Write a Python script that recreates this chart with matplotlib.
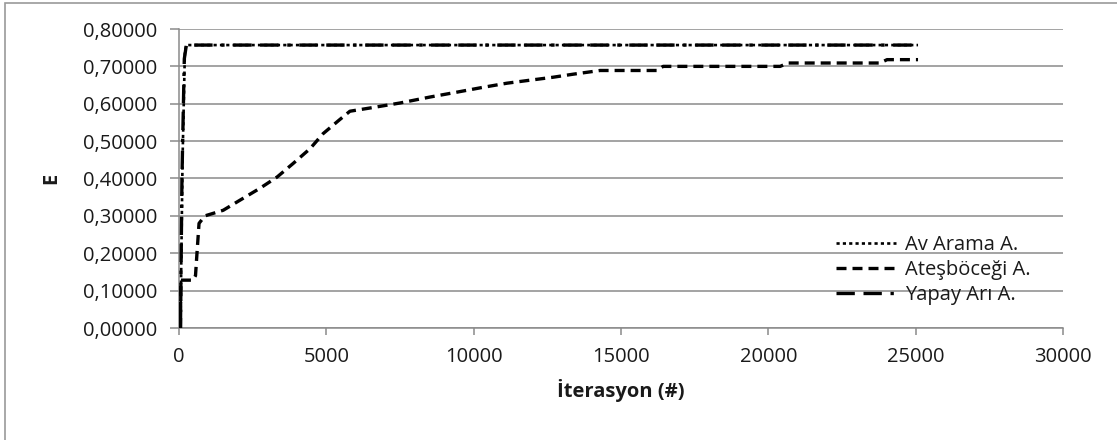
import matplotlib
matplotlib.use("Agg")
import matplotlib.pyplot as plt
from matplotlib.patches import Rectangle

plt.rcParams['font.family'] = ['Open Sans', 'DejaVu Sans']

# Data
av_x = [50, 120, 200, 250, 25080]
av_y = [0.0, 0.45, 0.74, 0.757, 0.757]

ates_x = [50, 60, 475, 560, 610, 680, 880, 1500, 2070, 2750, 3330, 3870, 4450, 4890, 5430,
          5800, 6590, 7500, 8520, 9430, 10320, 11130, 11910, 12700, 13370, 14290, 16220,
          16430, 20400, 20670, 23790, 24030, 25080]
ates_y = [0.0, 0.128, 0.128, 0.14, 0.20, 0.28, 0.30, 0.315, 0.342, 0.374, 0.404, 0.44, 0.48,
          0.52, 0.556, 0.58, 0.59, 0.602, 0.618, 0.631, 0.644, 0.655, 0.663, 0.671, 0.679,
          0.689, 0.689, 0.70, 0.70, 0.709, 0.709, 0.718, 0.718]

yapay_x = [50, 100, 180, 250, 25080]
yapay_y = [0.0, 0.40, 0.72, 0.757, 0.757]

labels = ['Av Arama A.', 'Ateşböceği A.', 'Yapay Arı A.']
xticks = [0, 5000, 10000, 15000, 20000, 25000, 30000]
yticks = [0.0, 0.1, 0.2, 0.3, 0.4, 0.5, 0.6, 0.7, 0.8]

W, H = 1117, 440
fig = plt.figure(figsize=(W / 100, H / 100), dpi=100)
ax = fig.add_axes([179 / W, 1 - 328 / H, (1063 - 179) / W, (328 - 29) / H])

grid_c = '#8a8a8a'
lw = 2.4
l1, = ax.plot(av_x, av_y, color='black', lw=1.9, dashes=(1.2, 1.2), label=labels[0], zorder=3)
l2, = ax.plot(ates_x, ates_y, color='black', lw=lw, dashes=(3.0, 1.8), label=labels[1], zorder=4)
l3, = ax.plot(yapay_x, yapay_y, color='black', lw=lw, dashes=(5.5, 2.6, 5.5, 2.6, 1, 2.6),
              label=labels[2], zorder=5)

ax.set_xlim(0, 30000)
ax.set_ylim(0, 0.8)
ax.set_xticks(xticks)
ax.set_xticklabels([str(v) for v in xticks])
ax.set_yticks(yticks)
ax.set_yticklabels([f"{v:.5f}".replace('.', ',') for v in yticks])

ax.grid(axis='y', color=grid_c, lw=1.1)
ax.set_axisbelow(True)
for s in ['top', 'right']:
    ax.spines[s].set_visible(False)
for s in ['left', 'bottom']:
    ax.spines[s].set_color(grid_c)
    ax.spines[s].set_linewidth(1.1)
ax.tick_params(axis='y', length=6.5, width=1.1, color=grid_c, pad=9, labelsize=14.5, labelcolor='#1a1a1a')
ax.tick_params(axis='x', length=5, width=1.1, color=grid_c, pad=9, labelsize=14.5, labelcolor='#1a1a1a')

ax.set_xlabel('İterasyon (#)', fontsize=14.5, fontweight='bold', labelpad=8, color='#1a1a1a')
fig.text(51 / W, 1 - 178 / H, 'E', rotation=90, fontsize=14.5, fontweight='bold',
         ha='center', va='center', color='#1a1a1a')

leg = fig.legend(handles=[l1, l2, l3], loc='center left',
                 bbox_to_anchor=(836 / W, 1 - 270 / H), frameon=False,
                 fontsize=14.5, handlelength=3.0, handletextpad=0.45,
                 labelspacing=0.27, borderpad=0, borderaxespad=0)
for t in leg.get_texts():
    t.set_color('#1a1a1a')

fig.patches.append(Rectangle((5 / W, -0.1), 1.2, 1 - 3 / H + 0.1, transform=fig.transFigure,
                             fill=False, edgecolor='#9a9a9a', lw=1.2))

fig.savefig('out.png', dpi=100)
